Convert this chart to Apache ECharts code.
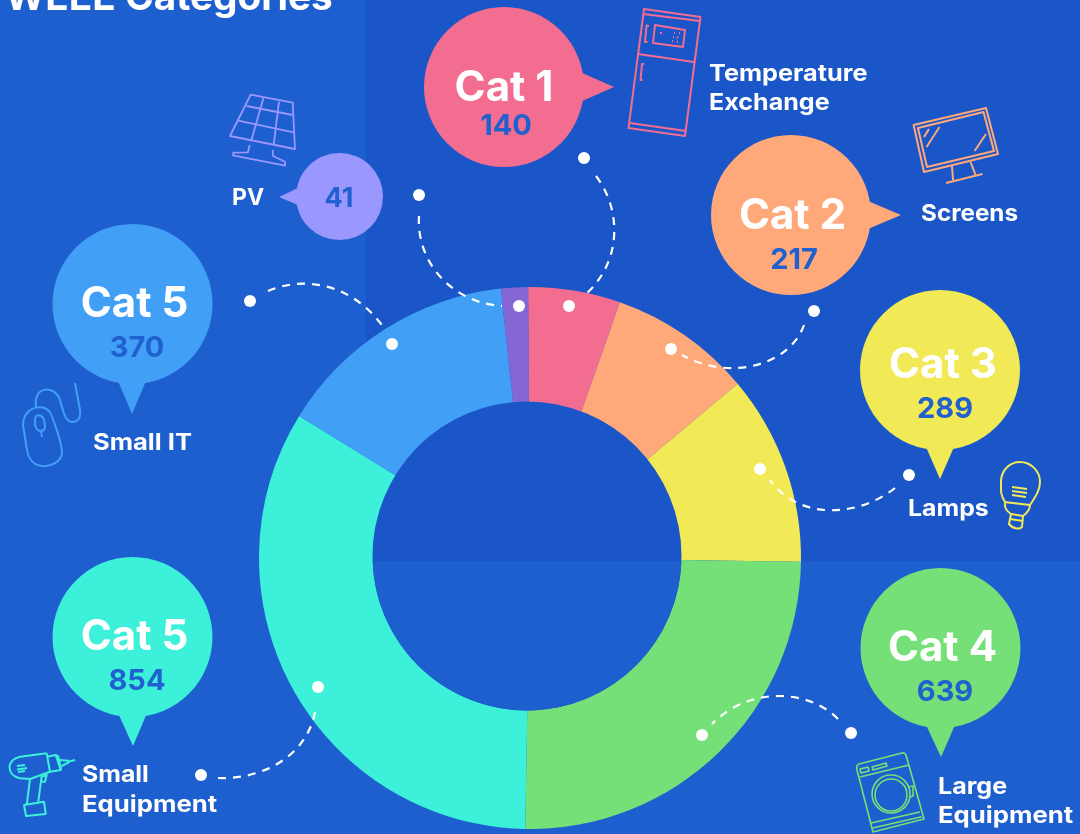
<!DOCTYPE html>
<html><head><meta charset="utf-8">
<style>html,body{margin:0;padding:0;background:#1e5fcf}#c{width:1080px;height:834px}</style>
<script src="https://cdn.jsdelivr.net/npm/echarts@6/dist/echarts.min.js"></script>
</head><body><div id="c"></div>
<script>
// ---- data ----
var chartTitle = 'WEEE Categories';
var sliceNames = ['Temperature Exchange','Screens','Lamps','Large Equipment','Small Equipment','Small IT','PV'];
var sliceValues = [140,217,289,639,854,370,41];
var sliceColors = ['#f26d8f','#ffa87a','#f1e955','#74e077','#3cf0da','#429ff6','#8566d5'];
var catLabels = ['Cat 1','Cat 2','Cat 3','Cat 4','Cat 5','Cat 5',''];
var nameLines = [['Temperature','Exchange'],['Screens'],['Lamps'],['Large','Equipment'],['Small','Equipment'],['Small IT'],['PV']];

// ---- annotation layout ----
var FONT = 'Inter';
var VAL = '#2060cf';
var BG_LIGHT = '#1e5fcf', BG_DARK = '#1a56c8';
// c: circle, p: pointer polygon, t: cat label x,y, v: value x,y
var bubbles = [
 {c:[504,87,80],  p:[[580,72],[614,87],[580,102]],   t:[504,88],  v:[506,126]},
 {c:[791,215,80], p:[[868,201],[901,215],[868,229]], t:[792.5,216], v:[794,260]},
 {c:[940,370,80], p:[[926,447],[940,479],[954,447]], t:[943,365], v:[945,409]},
 {c:[940.5,648,80],p:[[926,725],[941,757],[955,725]],t:[942.5,648], v:[945,692]},
 {c:[132.5,637,80],p:[[118,713],[133,746],[147,713]],t:[134.5,637], v:[137,681]},
 {c:[132.5,304,80],p:[[118,381],[132,414],[146,381]],t:[134.5,304], v:[137,348]},
 {c:[339.5,196.5,43.5],p:[[298,188],[279,197],[298,205]],t:[0,0],v:[339,199]}
];
var labelPos = [[709,74,29],[921,214,29],[908,509,29],[938,787,29],[82,775,30],[93,443,29],[232,198,29]];
var labelScale = [[1.1,1.09],[1.055],[1.08],[1.09,1.117],[1.08,1.117],[1.11],[1]];
var dots = [[584,158],[419,195],[250,301],[392,344],[519,306],[569,306],[814,311],[671,349],[909,475],[760,469],[851,733],[702,735],[318,687],[201,775]];
var dashes = [
 'M596 176C622 210 622 262 585 295',
 'M419 216C416 262 452 303 502 306',
 'M268 291C300 277 350 280 384 328',
 'M804 325C790 365 730 382 682 355',
 'M895 488C860 516 800 522 770 480',
 'M838 719C810 690 750 685 712 724',
 'M218 778C260 780 310 757 316 706'
];
var icons = [
 {col:'#f26d8f',w:2,paths:[
  'M644 9L700.5 17L685 136L628.5 128Z','M643 14L700 21','M638 54L694 62','M630 123L686 131',
  'M655 25L685 30L683 47L653 43Z','M649 26L646.5 25.5L645 42L647.5 42','M644 64L642 64L640.5 80L642.5 80',
  'M660 33L662 33','M674 33L675 33','M679 33L680 33','M673 37L674 37','M677 37L678 38','M672 41L673 41','M677 42L678 42']},
 {col:'#ffa87a',w:2,paths:[
  'M913.6 125L986 108L998 154L924 172Z','M918 128L983.5 112L994 151L927 167Z','M952 166L953 180','M970.5 162L975.6 175','M946 183L982.5 174',
  'M924 137L929 129','M926.5 147L939.5 127','M974.6 151L986 134']},
 {col:'#f1e955',w:2,paths:[
  'M1005 502C1000 494 1001 490 1001 482C1001 470 1010 462 1020 462C1031 462 1040 471 1040 482C1040 490 1036 496 1030 505',
  'M1004 502L1030 505','M1005 503C1004 509 1008 512 1011 514L1009 524C1014 530 1020 529 1022 527L1023 516C1027 513 1030 509 1030 505',
  'M1011 514L1023 516','M1010 519L1023 521','M1012 487L1027 489','M1012 491L1027 493','M1012 495L1026 497']},
 {col:'#74e077',w:1.6,paths:[
  'M859 764L902 753Q905 752.5 906 755L924 819L873 832L857 770Q856 765 859 764Z','M860 777L909 765',
  'M860 769L868 767L869 771L861 773Z','M872 767L886 763L887 766L873 770Z',
  'M891 775A19 19 0 1 0 891.1 775Z','M891 779A16 16 0 1 0 891.1 779Z',
  'M908 787L913 786L913 796L910 797','M872.7 828L921.7 816.7','M871 823L920 812']},
 {col:'#3cf0da',w:2,paths:[
  'M46.7 753.3L20 756.7C6 760 6 775 20 778.3L30 779L50 771.7','M46.7 753.3L50 771.7',
  'M46.7 756.7L55.7 755L60.7 770L50 771.7','M55.7 755L58.3 756.7L61 768.3L60.7 770','M60 760L68.3 760.7L68.3 762.7L61.7 766','M68.3 761.7L75 760',
  'M17 766L25 765','M17 769.5L27 768','M18 772L25 771',
  'M30 779L26.7 805','M41.7 776L38.3 801.7','M24 805L44 801.7L45.7 814L26 816Z','M41.7 776.7L46.7 775L45 781.7L40.7 781.7']},
 {col:'#429ff6',w:2,paths:[
  'M36 407C33 385 55 385 60 400C63 410 65 422 72 422C80 422 81 415 80 410L75 383',
  'M28 412C34 406 44 406 49 411C53 416 62 445 62 452C62 462 50 467 42 466C32 465 28 457 27 450L23 425C23 420 24 416 28 412Z',
  'M36 416C39 414 43 416 44 420L45 426C45 430 42 431 40 431C37 431 36 428 35 425L35 419Z','M41 431L42 437']},
 {col:'#9a97ff',w:1.8,paths:[
  'M250.7 94.7L292.7 102.7L295 149L230 136Z','M246.6 106L292.7 115','M238.3 120.7L293.7 132.3','M263.4 98.3L251.4 140','M279 101.7L273.8 144',
  'M249.7 145L248 152.3L233.5 152.7L233 155.3L285 165.7L285 161.7L273 156L272.7 150']}
];

// ---- graphic elements ----
var g = [];
function add(o){ g.push(o); }
var shapeCount = 0;
function pathType(d){
  var name = 'svgp' + (shapeCount++);
  echarts.graphic.registerShape(name, echarts.graphic.extendPath(d, {}));
  return name;
}
var zTop = 10;
function txt(x,y,s,fill,size,align,sx){
  return {type:'text',z:zTop+1,silent:true,x:x,y:y,scaleX:sx||1,scaleY:1,style:{x:0,y:0,text:s,fill:fill,fontFamily:FONT,fontWeight:700,fontSize:size,textAlign:align,textVerticalAlign:'middle'}};
}
// background panels
add({type:'rect',z:-10,shape:{x:0,y:0,width:1080,height:834},style:{fill:BG_LIGHT},silent:true});
add({type:'rect',z:-9,shape:{x:366,y:0,width:714,height:561},style:{fill:BG_DARK},silent:true});
// donut hole (sits slightly off the ring's centre, over both panels)
add({type:'circle',z:5,shape:{cx:527,cy:556,r:154.5},style:{fill:BG_DARK},silent:true});
add({type:pathType('M372.58 561A154.5 154.5 0 0 0 681.42 561Z'),z:6,style:{fill:BG_LIGHT},silent:true});

add(txt(5,-1,chartTitle,'#fff',38,'left',1.02));
dashes.forEach(function(d){
  add({type:pathType(d),z:zTop,style:{fill:null,stroke:'#fff',lineWidth:2.2,lineDash:[8,7]},silent:true});
});
dots.forEach(function(d){
  add({type:'circle',z:zTop,shape:{cx:d[0],cy:d[1],r:6},style:{fill:'#fff'},silent:true});
});
icons.forEach(function(ic){
  ic.paths.forEach(function(p){
    add({type:pathType(p),z:zTop,style:{fill:null,stroke:ic.col,lineWidth:ic.w,lineJoin:'round'},silent:true});
  });
});
sliceValues.forEach(function(v,i){
  var b = bubbles[i], col = i===6 ? '#9a97ff' : sliceColors[i];
  add({type:'circle',z:zTop,shape:{cx:b.c[0],cy:b.c[1],r:b.c[2]},style:{fill:col},silent:true});
  add({type:'polygon',z:zTop,shape:{points:b.p},style:{fill:col},silent:true});
  if(catLabels[i]) add(txt(b.t[0],b.t[1],catLabels[i],'#fff',42,'center'));
  add(txt(b.v[0],b.v[1],String(v),VAL,i===6?27:29,'center'));
  var lp = labelPos[i];
  nameLines[i].forEach(function(line,k){
    add(txt(lp[0],lp[1]+k*lp[2],line,'#fff',23,'left',labelScale[i][k]));
  });
});

var chart = echarts.init(document.getElementById('c'),null,{renderer:'canvas'});
chart.setOption({
  animation:false,
  backgroundColor:BG_LIGHT,
  graphic:{elements:g},
  series:[{
    type:'pie',
    center:[530,558],
    radius:[150,271],
    startAngle:90.4,
    clockwise:true,
    silent:true,
    z:2,
    label:{show:false},
    labelLine:{show:false},
    itemStyle:{borderWidth:0},
    data:sliceValues.map(function(v,i){return {name:sliceNames[i],value:v,itemStyle:{color:sliceColors[i]}};})
  }]
});
</script></body></html>
